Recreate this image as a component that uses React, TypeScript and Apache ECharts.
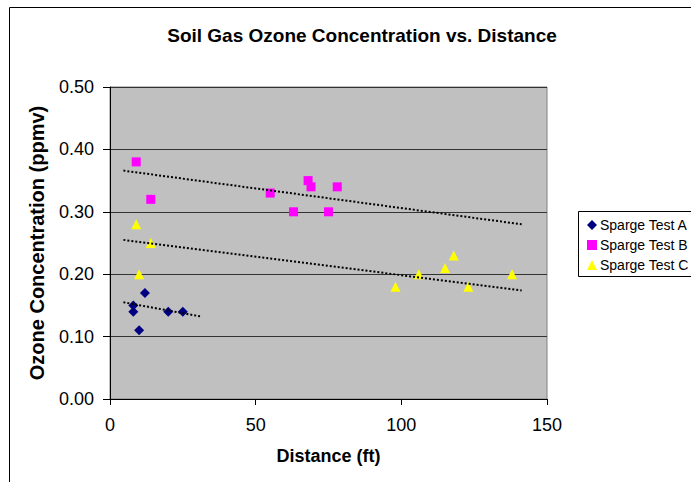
import React, { useEffect, useRef } from "react";
import * as echarts from "echarts";

const titleText = "Soil Gas Ozone Concentration vs. Distance";
const xAxisTitle = "Distance (ft)";
const yAxisTitle = "Ozone Concentration (ppmv)";
const seriesNames = ["Sparge Test A", "Sparge Test B", "Sparge Test C"];

const testAX = [8, 8, 10, 12, 20, 25];
const testAY = [0.15, 0.14, 0.11, 0.17, 0.14, 0.14];
const testBX = [9, 14, 55, 63, 68, 69, 75, 78];
const testBY = [0.38, 0.32, 0.33, 0.3, 0.35, 0.34, 0.3, 0.34];
const testCX = [9, 10, 14, 98, 106, 115, 118, 123, 138];
const testCY = [0.28, 0.2, 0.25, 0.18, 0.2, 0.21, 0.23, 0.18, 0.2];

// trendline end points
const trendAX = [4.6, 30.9];
const trendAY = [0.155, 0.1325];
const trendBX = [4.6, 141.3];
const trendBY = [0.366, 0.28];
const trendCX = [4.6, 141.3];
const trendCY = [0.255, 0.174];

const zip = (xs: number[], ys: number[]) => xs.map((x, i) => [x, ys[i]]);

const FONT = "'Liberation Sans', Arial, sans-serif";

export default function App() {
  const ref = useRef<HTMLDivElement>(null);
  useEffect(() => {
    if (!ref.current) return;
    const chart = echarts.init(ref.current, undefined, { renderer: "svg" });
    const trendStyle = { color: "#000", width: 2, type: [2, 2] as any };
    chart.setOption({
      animation: false,
      backgroundColor: "#fff",
      textStyle: { fontFamily: FONT },
      title: {
        text: titleText,
        left: 357,
        top: 21,
        textAlign: "center",
        textStyle: { fontSize: 19, fontWeight: "bold", color: "#000", fontFamily: FONT },
      },
      legend: {
        data: seriesNames,
        orient: "vertical",
        left: 582,
        top: 213,
        itemWidth: 10,
        itemHeight: 10,
        itemGap: 6,
        textStyle: { fontSize: 14, color: "#000", fontFamily: FONT, padding: [0, 0, 0, -2] },
      },
      grid: {
        left: 110,
        top: 87,
        right: 144,
        bottom: 83,
        show: true,
        backgroundColor: "#C0C0C0",
        borderColor: "#808080",
        borderWidth: 1,
      },
      xAxis: {
        type: "value",
        min: 0,
        max: 150,
        interval: 50,
        name: xAxisTitle,
        nameLocation: "middle",
        nameGap: 48,
        nameTextStyle: { fontSize: 18, fontWeight: "bold", color: "#000", fontFamily: FONT },
        axisLine: { show: true, lineStyle: { color: "#000", width: 1 } },
        axisTick: { show: true, length: 6, lineStyle: { color: "#000" } },
        axisLabel: { fontSize: 18, color: "#000", margin: 17, fontFamily: FONT },
        splitLine: { show: false },
      },
      yAxis: {
        type: "value",
        min: 0,
        max: 0.5,
        interval: 0.1,
        name: yAxisTitle,
        nameLocation: "middle",
        nameGap: 63,
        nameTextStyle: { fontSize: 20, fontWeight: "bold", color: "#000", fontFamily: FONT },
        axisLine: { show: true, lineStyle: { color: "#000", width: 1 } },
        axisTick: { show: true, length: 7, lineStyle: { color: "#000" } },
        axisLabel: {
          fontSize: 18,
          color: "#000",
          margin: 16,
          fontFamily: FONT,
          formatter: (v: number) => v.toFixed(2),
        },
        splitLine: { show: true, lineStyle: { color: "#333", width: 1 } },
      },
      graphic: [
        { type: "line", shape: { x1: 9.5, y1: 7.5, x2: 9.5, y2: 490 }, style: { stroke: "#000", lineWidth: 1 } },
        { type: "line", shape: { x1: 9.5, y1: 7.5, x2: 700, y2: 7.5 }, style: { stroke: "#000", lineWidth: 1 } },
        { type: "rect", shape: { x: 578.5, y: 211.5, width: 130, height: 65 }, style: { stroke: "#000", fill: "none", lineWidth: 1 } },
      ],
      series: [
        {
          name: seriesNames[0],
          type: "scatter",
          symbol: "diamond",
          symbolSize: 10,
          itemStyle: { color: "#000080", opacity: 1 },
          data: zip(testAX, testAY),
          z: 3,
        },
        {
          name: seriesNames[1],
          type: "scatter",
          symbol: "rect",
          symbolSize: 9,
          itemStyle: { color: "#FF00FF", opacity: 1 },
          data: zip(testBX, testBY),
          z: 3,
        },
        {
          name: seriesNames[2],
          type: "scatter",
          symbol: "triangle",
          symbolSize: 10,
          itemStyle: { color: "#FFFF00", opacity: 1 },
          data: zip(testCX, testCY),
          z: 3,
        },
        { name: "trendA", type: "line", showSymbol: false, symbol: "none", data: zip(trendAX, trendAY), lineStyle: trendStyle, z: 4 },
        { name: "trendB", type: "line", showSymbol: false, symbol: "none", data: zip(trendBX, trendBY), lineStyle: trendStyle, z: 4 },
        { name: "trendC", type: "line", showSymbol: false, symbol: "none", data: zip(trendCX, trendCY), lineStyle: trendStyle, z: 4 },
      ],
    });
    return () => chart.dispose();
  }, []);
  return <div ref={ref} style={{ position: "fixed", left: 0, top: 0, width: 691, height: 482 }} />;
}
